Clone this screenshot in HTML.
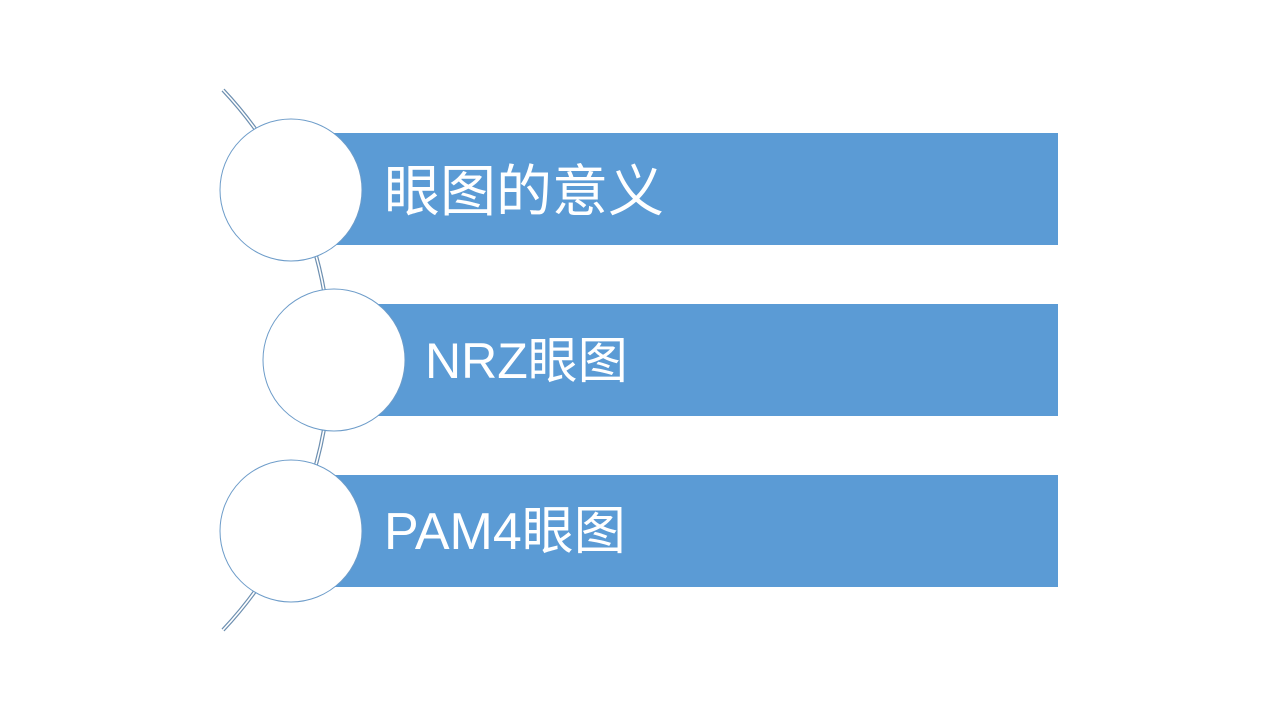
<!DOCTYPE html>
<html><head><meta charset="utf-8"><style>
body{margin:0;width:1280px;height:720px;background:#fff;overflow:hidden;position:relative;font-family:"Liberation Sans","Noto Sans CJK SC",sans-serif}
.bar{position:absolute;left:320px;width:738px;height:112px;background:#5b9bd5}
.t{position:absolute;color:#fff;line-height:1}
</style></head><body>
<div class="bar" style="top:133px"></div>
<div class="bar" style="top:304px"></div>
<div class="bar" style="top:475px"></div>
<svg width="1280" height="720" style="position:absolute;left:0;top:0">
<path d="M223,90 A394,394 0 0 1 223,630" fill="none" stroke="#6d8fb0" stroke-width="4"/>
<path d="M223,90 A394,394 0 0 1 223,630" fill="none" stroke="#fff" stroke-width="1.6"/>
<circle cx="291" cy="190" r="71" fill="#fff" stroke="#6d9cc9" stroke-width="1"/>
<circle cx="334" cy="360" r="71" fill="#fff" stroke="#6d9cc9" stroke-width="1"/>
<circle cx="291" cy="531" r="71" fill="#fff" stroke="#6d9cc9" stroke-width="1"/>
</svg>
<div class="t" style="left:384px;top:164px;font-size:56px">眼图的意义</div>
<div class="t" style="left:425px;top:336px;font-size:50px">NRZ眼图</div>
<div class="t" style="left:384px;top:506px;font-size:52px">PAM4眼图</div>
</body></html>
